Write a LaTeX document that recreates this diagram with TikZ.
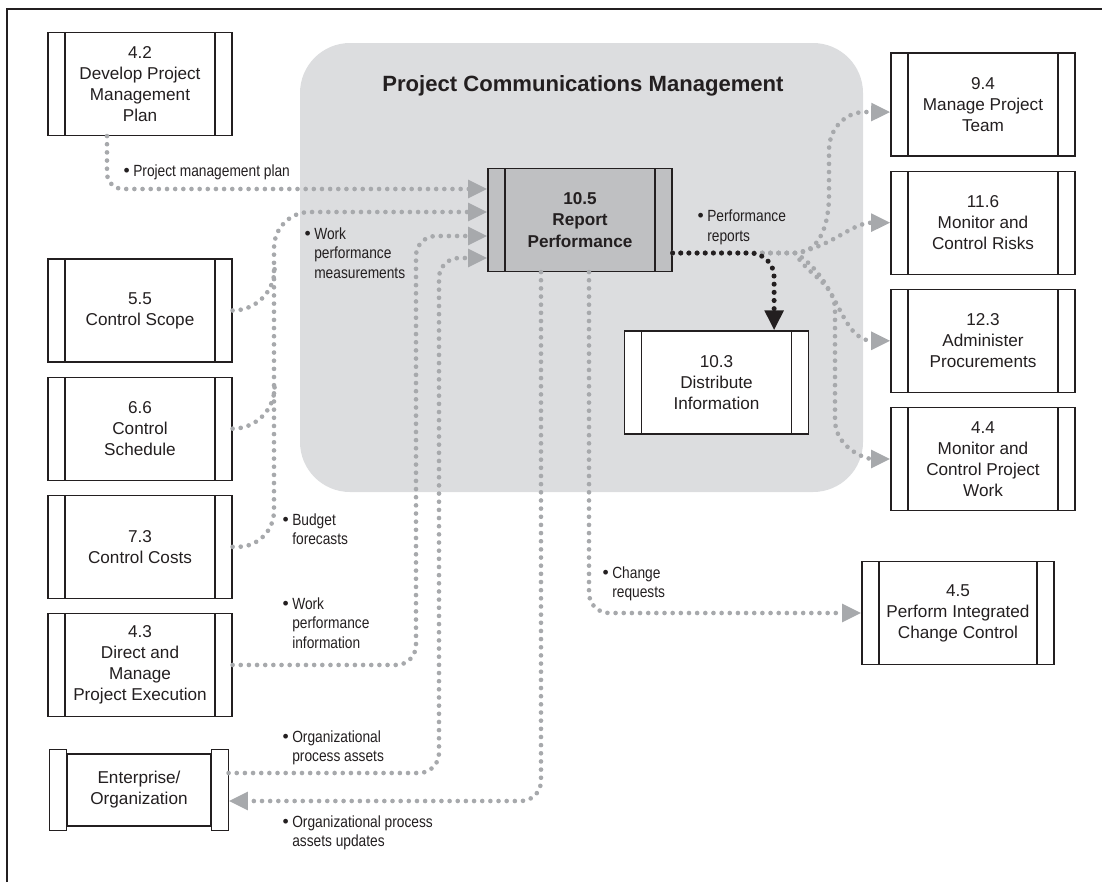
\documentclass[tikz,border=0pt]{standalone}
\usepackage{fontspec}
\setmainfont{Liberation Sans}
\newfontfamily\narrowfont[FakeStretch=0.85]{Liberation Sans}
\usetikzlibrary{arrows.meta,positioning}
\definecolor{panelgray}{HTML}{DCDDDF}
\definecolor{procgray}{HTML}{BFC0C2}
\definecolor{dotgray}{HTML}{A7A9AC}
\definecolor{inkblack}{HTML}{231F20}
\newcommand{\bul}{\llap{{\normalfont\fontsize{12.5}{12.5}\selectfont\textbullet}\hspace{2.5pt}}}

\begin{document}
\begin{tikzpicture}[
    x=0.025cm, y=-0.025cm,
    node distance=0.35cm,
    proc/.style={draw=inkblack,line width=0.8pt,fill=white,align=center,
        minimum width=4.6cm,minimum height=2.575cm,inner sep=0pt,
        font=\fontsize{12.2}{15}\selectfont,text=inkblack,
        path picture={
          \draw[inkblack,line width=0.8pt]
            ([xshift=0.425cm]path picture bounding box.north west) --
            ([xshift=0.425cm]path picture bounding box.south west)
            ([xshift=-0.425cm]path picture bounding box.north east) --
            ([xshift=-0.425cm]path picture bounding box.south east);}},
    lbl/.style={anchor=north west,align=left,inner sep=0pt,text=inkblack,
        font=\narrowfont\fontsize{11.5}{13.9}\selectfont},
    flow/.style={draw=dotgray,line width=3.3pt,line cap=round,
        dash pattern=on 0pt off 5.8pt,rounded corners=0.5cm,
        -{Triangle[length=0.48cm,width=0.43cm,fill=dotgray]}},
    feed/.style={flow,-},
    outflow/.style={flow,draw=inkblack,line width=3.6pt,rounded corners=0.6cm,
        -{Triangle[length=0.5cm,width=0.45cm,fill=inkblack]}}
]
\useasboundingbox (0,0) rectangle (1102,882);
% frame and process group
\draw[inkblack,line width=1pt] (7,882) -- (7,9) -- (1102,9);
\fill[panelgray,rounded corners=1.25cm] (300,43) rectangle (863,492);
\node[font=\bfseries\fontsize{15.7}{18}\selectfont,text=inkblack] (title)
    at (583,86) {Project Communications Management};

% left column
\node[proc] (b42) at (140,84) {4.2\\Develop Project\\Management\\Plan};
\node[proc] (b55) at (140,310.5) {5.5\\Control Scope};
\node[proc,below=of b55] (b66) {6.6\\Control\\Schedule};
\node[proc,below=of b66] (b73) {7.3\\Control Costs};
\node[proc,below=of b73] (b43) {4.3\\Direct and\\Manage\\Project Execution};
\node[proc,minimum width=4.45cm,minimum height=1.8cm] (ent) at (139,790)
    {Enterprise/\\Organization};
\draw[inkblack,line width=0.8pt,fill=white]
    ([yshift=0.1cm]ent.north west) rectangle ([xshift=0.425cm,yshift=-0.1cm]ent.south west)
    ([xshift=-0.425cm,yshift=0.1cm]ent.north east) rectangle ([yshift=-0.1cm]ent.south east);

% centre
\node[proc,fill=procgray,font=\bfseries\fontsize{12.2}{15}\selectfont] (b105)
    at (580,220) {10.5\\Report\\Performance};
\node[proc] (b103) at (716.5,382.5) {10.3\\Distribute\\Information};

% right column
\node[proc] (b94) at (983,104.5) {9.4\\Manage Project\\Team};
\node[proc,below=of b94] (b116) {11.6\\Monitor and\\Control Risks};
\node[proc,below=of b116] (b123) {12.3\\Administer\\Procurements};
\node[proc,below=of b123] (b44) {4.4\\Monitor and\\Control Project\\Work};
\node[proc,minimum width=4.8cm] (b45) at (958,613)
    {4.5\\Perform Integrated\\Change Control};

% inputs
\coordinate (in1) at ([yshift=0.775cm]b105.west);
\coordinate (in2) at ([yshift=0.2cm]b105.west);
\coordinate (in3) at ([yshift=-0.4cm]b105.west);
\coordinate (in4) at ([yshift=-0.95cm]b105.west);
\coordinate (wpm) at (274,212);
\coordinate (wpi) at (416,236);
\coordinate (opa) at (439,258);
\draw[flow,rounded corners=0.4cm] ([xshift=-0.825cm]b42.south) |- (in1);
\draw[flow,rounded corners=0.9cm] (b73.east) -| (wpm) [rounded corners=0.55cm] -- (in2);
\draw[feed,sharp corners] (b55.east) to[out=0,in=-90] ++(42,-42);
\draw[feed,sharp corners] (b66.east) to[out=0,in=-90] ++(42,-42);
\draw[flow] (b43.east) -| (wpi) -- (in3);
\draw[flow] ([yshift=0.425cm]ent.east) -| (opa) -- (in4);

% outputs
\draw[flow] ([xshift=-0.975cm]b105.south) |- ([yshift=-0.275cm]ent.east);
\draw[flow] ([xshift=0.225cm]b105.south) |- (b45.west);
\coordinate (rp) at ([yshift=-0.825cm]b105.east);
\coordinate (fork) at (795,253);
\draw[flow,sharp corners] (rp) -- (fork) to[out=0,in=-90] (829,195) -- (829,150)
    to[out=90,in=180] (865,112) -- ([yshift=-0.19cm]b94.west);
\draw[flow,sharp corners] (rp) -- (fork) to[out=10,in=180] (b116.west);
\draw[flow,sharp corners] (rp) -- (fork) to[out=-30,in=180] (b123.west);
\draw[flow,sharp corners] (rp) -- (fork) to[out=-60,in=90] (835,310) -- (835,420)
    to[out=-90,in=180] (b44.west);
\draw[outflow] (rp) -| ([xshift=1.44cm]b103.north);

% labels
\node[lbl] (lpmp) at (133,164) {\bul Project management plan};
\node[lbl] (lwpm) at (314,227) {\bul Work\\performance\\measurements};
\node[lbl] (lbud) at (292,513) {\bul Budget\\forecasts};
\node[lbl] (lwpi) at (292,597) {\bul Work\\performance\\information};
\node[lbl] (lopa) at (292,730) {\bul Organizational\\process assets};
\node[lbl] (lopu) at (292,815) {\bul Organizational process\\assets updates};
\node[lbl] (lpr) at (707,210) {\bul Performance\\reports};
\node[lbl] (lcr) at (612,566) {\bul Change\\requests};
\end{tikzpicture}
\end{document}
